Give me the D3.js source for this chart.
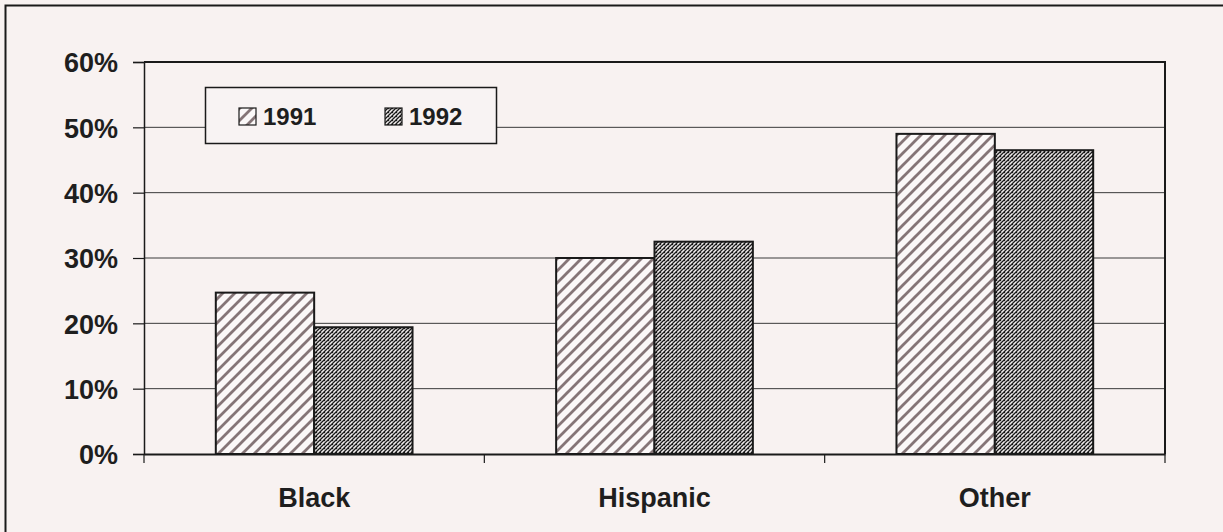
<!DOCTYPE html>
<html><head><meta charset="utf-8">
<script src="https://cdn.jsdelivr.net/npm/d3@7"></script>
<style>body{margin:0;background:#f8f2f1;}svg{display:block;}text{font-family:"Liberation Sans",Arial,sans-serif;font-weight:bold;fill:#1e1e1e;}</style>
</head><body>
<script>
const categories = ["Black", "Hispanic", "Other"];
const seriesNames = ["1991", "1992"];
const values1991 = [24.7, 30.0, 49.0];
const values1992 = [19.4, 32.5, 46.5];
const yTicks = [0, 10, 20, 30, 40, 50, 60];

const W = 1223, H = 532;
const svg = d3.select("body").append("svg").attr("width", W).attr("height", H);
const defs = svg.append("defs");

// pattern for 1991: diagonal stripes
const p1 = defs.append("pattern").attr("id", "p1991").attr("patternUnits", "userSpaceOnUse")
  .attr("width", 12).attr("height", 12);
p1.append("rect").attr("width", 12).attr("height", 12).attr("fill", "#fbf8f8");
p1.append("path").attr("d", "M-3,15 L15,-3 M-3,3 L3,-3 M9,15 L15,9")
  .attr("stroke", "#857577").attr("stroke-width", 2.8);
// pattern for 1992: dense crosshatch/checker
const p2 = defs.append("pattern").attr("id", "p1992").attr("patternUnits", "userSpaceOnUse")
  .attr("width", 4).attr("height", 4);
p2.append("rect").attr("width", 4).attr("height", 4).attr("fill", "#f4f0f0");
p2.append("path").attr("d", "M0,4 L4,0 M-1,1 L1,-1 M3,5 L5,3").attr("stroke", "#1a1a1a").attr("stroke-width", 1.3);
p2.append("rect").attr("x", 0).attr("y", 0).attr("width", 1.2).attr("height", 1.2).attr("fill", "#1a1a1a");

// outer border
svg.append("path").attr("d", "M5.5,532 L5.5,5.5 L1223,5.5").attr("fill", "none").attr("stroke", "#1a1a1a").attr("stroke-width", 2);

const margin = {left: 144, right: 1165, top: 62, bottom: 454};
const x = d3.scaleBand().domain(categories).range([margin.left, margin.right]);
const xs = d3.scaleBand().domain(seriesNames).range([0, x.bandwidth()]).paddingInner(0).paddingOuter(0.73);
const y = d3.scaleLinear().domain([0, 60]).range([margin.bottom, margin.top]);

// gridlines
svg.append("g").selectAll("line").data(yTicks.filter(t => t > 0 && t < 60)).join("line")
  .attr("x1", margin.left).attr("x2", margin.right)
  .attr("y1", d => y(d)).attr("y2", d => y(d))
  .attr("stroke", "#3a3a3a").attr("stroke-width", 1);

// bars
const data = categories.map((c, i) => ({c, vals: [values1991[i], values1992[i]]}));
const g = svg.append("g");
data.forEach(d => {
  seriesNames.forEach((s, j) => {
    g.append("rect")
      .attr("x", x(d.c) + xs(s)).attr("width", xs.bandwidth())
      .attr("y", y(d.vals[j])).attr("height", y(0) - y(d.vals[j]))
      .attr("fill", j === 0 ? "url(#p1991)" : "url(#p1992)")
      .attr("stroke", "#1a1a1a").attr("stroke-width", 2);
  });
});

// plot frame: top and right
svg.append("path").attr("d", `M${margin.left},${margin.top} L${margin.right},${margin.top} L${margin.right},${margin.bottom}`)
  .attr("fill", "none").attr("stroke", "#1a1a1a").attr("stroke-width", 2);

// y axis
const yAxis = svg.append("g").attr("transform", `translate(${margin.left},0)`)
  .call(d3.axisLeft(y).tickValues(yTicks).tickFormat(d => d + "%").tickSize(11).tickPadding(15));
yAxis.select(".domain").attr("stroke", "#1a1a1a").attr("stroke-width", 1.5);
yAxis.selectAll(".tick line").attr("stroke", "#1a1a1a").attr("stroke-width", 1.2);
yAxis.selectAll("text").style("font-size", "27px").attr("fill", "#1e1e1e").attr("dy", "0.36em");

// x axis
const xAxis = svg.append("g").attr("transform", `translate(0,${margin.bottom})`)
  .call(d3.axisBottom(x).tickSize(0).tickPadding(34));
xAxis.select(".domain").attr("stroke", "#1a1a1a").attr("stroke-width", 2);
xAxis.selectAll("text").style("font-size", "27px").attr("fill", "#1e1e1e");
// category separator ticks
const sepTicks = categories.map(c => x(c)).concat([margin.right]);
svg.append("g").selectAll("line").data(sepTicks).join("line")
  .attr("x1", d => d).attr("x2", d => d).attr("y1", margin.bottom).attr("y2", margin.bottom + 9)
  .attr("stroke", "#1a1a1a").attr("stroke-width", 1.2);

// legend
const lg = svg.append("g");
lg.append("rect").attr("x", 205.5).attr("y", 87.5).attr("width", 291).attr("height", 56)
  .attr("fill", "#f8f3f3").attr("stroke", "#1a1a1a").attr("stroke-width", 1.5);
const legX = [239, 385];
seriesNames.forEach((s, j) => {
  lg.append("rect").attr("x", legX[j]).attr("y", 108).attr("width", 17).attr("height", 17)
    .attr("fill", j === 0 ? "url(#p1991)" : "url(#p1992)").attr("stroke", "#1a1a1a").attr("stroke-width", 1.2);
  lg.append("text").attr("x", legX[j] + 24).attr("y", 125).style("font-size", "24px").text(s);
});
</script>
</body></html>
